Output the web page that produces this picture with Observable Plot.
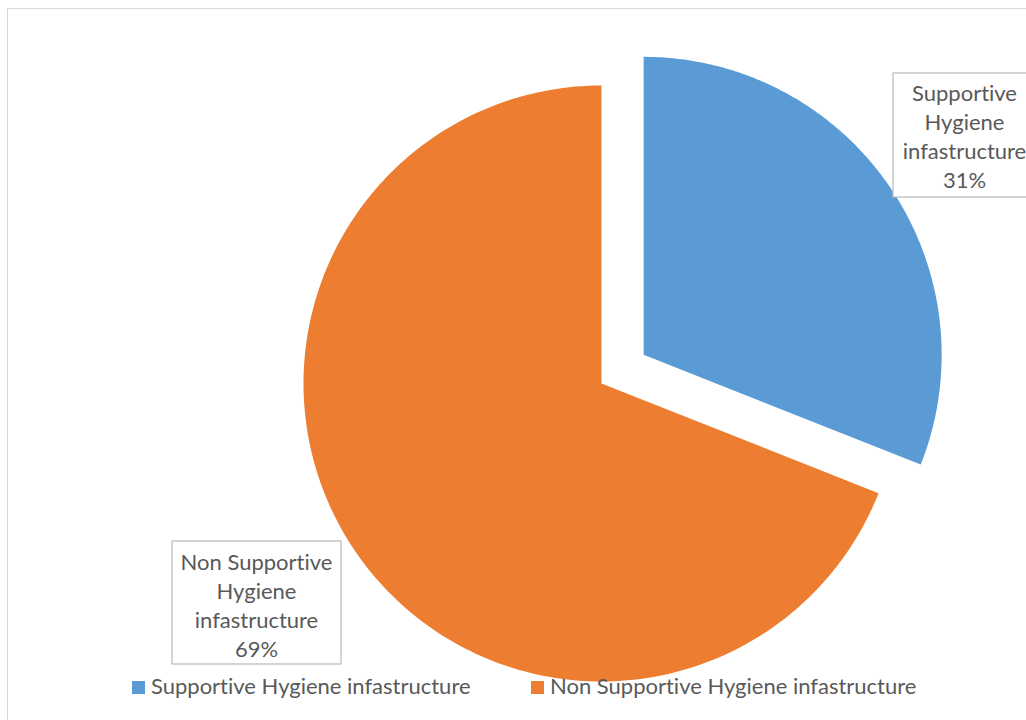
<!DOCTYPE html>
<html><head><meta charset="utf-8">
<script src="https://cdn.jsdelivr.net/npm/d3@7"></script>
<script src="https://cdn.jsdelivr.net/npm/@observablehq/plot@0.6"></script>
<style>
body{margin:0;background:#fff;}
#wrap{position:relative;width:1026px;height:720px;overflow:hidden;background:#fff;font-family:Lato,"Open Sans",sans-serif;font-variant-ligatures:none;}
#wrap text{font-variant-ligatures:none;}
#frame{position:absolute;left:7px;top:8px;width:1040px;height:740px;border:1.5px solid #d9d9d9;box-sizing:border-box;}
#chart{position:absolute;left:0;top:0;}
.leg{position:absolute;top:672px;font-size:22px;color:#595959;white-space:nowrap;line-height:28px;}
.sw{display:inline-block;width:13px;height:13px;margin-right:6px;vertical-align:0px;}
</style></head>
<body><div id="wrap"><div id="frame"></div><div id="chart"></div></div>
<script>
// ---- data ----
const categories = ["Supportive Hygiene infastructure", "Non Supportive Hygiene infastructure"];
const values = [31, 69];
const labelLines = ["Supportive\nHygiene\ninfastructure", "Non Supportive\nHygiene\ninfastructure"];
const colors = ["#5b9bd5", "#ed7d31"];

// ---- layout ----
const W = 1026, H = 720;
const cx = 601, cy = 383, R = 298;
const explode = [0.171, 0];
const ux = px => (px - cx) / R, uy = py => (cy - py) / R;
const labelBoxes = [
  {x1: 893, x2: 1040, y1: 73, y2: 197, tx: 964, ty: 135},
  {x1: 172, x2: 341, y1: 541, y2: 664, tx: 256, ty: 604}
];

const pie = d3.pie().sort(null).value(d => d.value)(categories.map((c, i) => ({name: c, value: values[i]})));
const pts = [];
pie.forEach((s, i) => {
  const m = (s.startAngle + s.endAngle) / 2;
  const ox = Math.sin(m) * explode[i], oy = Math.cos(m) * explode[i];
  pts.push({name: s.data.name, x: ox, y: oy});
  const n = 200;
  for (let k = 0; k <= n; k++) {
    const a = s.startAngle + (s.endAngle - s.startAngle) * k / n;
    pts.push({name: s.data.name, x: ox + Math.sin(a), y: oy + Math.cos(a)});
  }
});

const labels = categories.map((c, i) => ({
  name: c,
  text: labelLines[i] + "\n" + values[i] + "%",
  x: ux(labelBoxes[i].tx), y: uy(labelBoxes[i].ty),
  x1: ux(labelBoxes[i].x1), x2: ux(labelBoxes[i].x2),
  y1: uy(labelBoxes[i].y1), y2: uy(labelBoxes[i].y2)
}));

const plot = Plot.plot({
  width: W, height: H,
  margin: 0,
  style: {background: "transparent", overflow: "visible"},
  x: {domain: [-1, 1], range: [cx - R, cx + R], axis: null},
  y: {domain: [-1, 1], range: [cy + R, cy - R], axis: null},
  color: {domain: categories, range: colors},
  marks: [
    Plot.line(pts, {x: "x", y: "y", z: "name", fill: "name", stroke: null, curve: "linear-closed"}),
    Plot.rect(labels, {x1: "x1", x2: "x2", y1: "y1", y2: "y2", fill: "white", stroke: "#bfbfbf", strokeWidth: 1.3}),
    Plot.text(labels, {x: "x", y: "y", text: "text", fill: "#595959", fontSize: 22, fontFamily: "Lato, 'Open Sans', sans-serif", lineHeight: 1.32, textAnchor: "middle"})
  ]
});
document.getElementById("chart").appendChild(plot);

// legend
const legX = [132, 531];
const wrap = document.getElementById("wrap");
categories.forEach((c, i) => {
  const d = document.createElement("div");
  d.className = "leg";
  d.style.left = legX[i] + "px";
  d.innerHTML = `<span class="sw" style="background:${colors[i]}"></span>${c}`;
  wrap.appendChild(d);
});
</script>
</body></html>
